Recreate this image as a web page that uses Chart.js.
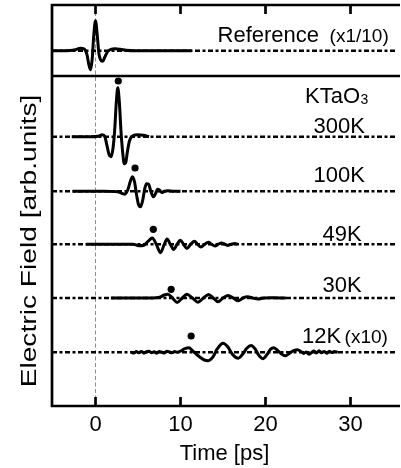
<!DOCTYPE html>
<html><head><meta charset="utf-8">
<script src="https://cdn.jsdelivr.net/npm/chart.js@4/dist/chart.umd.min.js"></script>
<style>html,body{margin:0;padding:0;background:#fff}</style>
</head><body>
<canvas id="c" width="401" height="468"></canvas>
<script>
// ---------- data ----------
const xTicks = [0, 10, 20, 30];
const seriesNames = ['Reference', '300K', '100K', '49K', '30K', '12K'];
// trace baselines (arb. units on the stacked offset axis)
const baselines = [35.52, 26.93, 21.47, 16.18, 10.8, 5.38];
const dividerValue = 33.0;

const tRef = [-5.12,-4,-3,-2.4,-1.8,-1.35,-1.0,-0.8,-0.6,-0.4,-0.2,0,0.2,0.4,0.6,0.85,1.1,1.4,1.8,2.3,2.9,3.6,4.5,6,8,11.3];
const vRef = [0,0,0.03,0.1,0.25,0.2,-0.4,-1.3,-1.9,-0.9,1.6,3.0,1.6,-0.3,-0.9,-1.05,-0.6,-0.1,0.15,0.2,0.15,0.05,0,0,0,0];

const t300 = [-2.8,-1.5,-0.5,0.3,0.8,1.1,1.35,1.6,1.83,2.05,2.25,2.45,2.62,2.8,3.0,3.2,3.38,3.55,3.75,4.0,4.4,5.0,5.6,6.3];
const v300 = [0,0,0,0.05,0.2,0.0,-0.9,-1.8,-2.0,-1.2,0.6,3.5,4.9,3.5,0.5,-1.6,-2.7,-2.6,-1.5,-0.4,0.1,0.2,0.15,0];

const t100 = [-2.7,-1,1,2.6,3.1,3.45,3.8,4.1,4.35,4.6,4.8,5.05,5.3,5.55,5.8,6.0,6.25,6.5,6.8,7.05,7.3,7.55,7.8,8.1,8.5,9.2,10.0];
const v100 = [0,0,0,-0.05,-0.2,-0.3,0.15,1.0,1.45,0.9,-0.2,-1.3,-1.55,-0.9,0.3,0.75,0.7,0.0,-0.55,-0.25,0.2,0.1,-0.12,0.0,0.06,0,0];

const t49 = [-1.1,2,4.4,5.1,5.7,6.2,6.67,7.15,7.65,8.05,8.42,8.8,9.2,9.6,9.97,10.35,10.75,11.2,11.64,12.0,12.4,12.85,13.27,13.65,14.05,14.45,14.82,15.2,15.6,16.0,16.4,16.7];
const v49 = [0,0,0,-0.15,-0.1,0.3,0.62,0.0,-0.85,-0.1,0.52,0.0,-0.52,0.0,0.4,0.0,-0.42,0.0,0.3,0.0,-0.27,0.0,0.2,0.0,-0.18,0.0,0.13,0.0,-0.12,0.0,0.08,0];

const t30 = [1.8,5,6.5,7.1,7.65,8.1,8.5,9.05,9.6,10.2,10.75,11.4,12.05,12.7,13.3,13.85,14.4,15.0,15.6,16.2,16.8,17.35,17.9,18.5,19.1,19.8,20.8,22.4];
const v30 = [0,0,0,0.03,0.12,0.3,0.38,0.0,-0.45,0.0,0.38,0.0,-0.42,0.0,0.35,0.0,-0.38,0.0,0.25,0.0,-0.28,0.0,0.12,0.0,-0.1,0.0,0.03,0];

const t12 = [4.2,4.5,4.8,5.1,5.4,5.7,6.0,6.3,6.6,6.9,7.2,7.5,7.8,8.1,8.4,8.7,9.0,9.3,9.6,
  10.0,10.5,11.0,11.4,11.8,12.3,12.8,13.27,13.8,14.3,15.0,15.6,16.1,16.8,17.4,17.8,18.3,18.8,19.2,19.67,20.2,20.6,21.0,21.5,22.0,22.4,22.9,23.3,23.75,
  24.2,24.5,24.8,25.1,25.4,25.7,26.0,26.3,26.6,26.9,27.2,27.5,27.8,28.1,28.5];
const v12 = [0.0,-0.08,0.06,-0.05,0.08,-0.1,0.05,0.1,-0.06,0.04,-0.1,0.08,0.0,-0.07,0.1,0.02,-0.05,0.06,0.0,
  0.1,0.35,0.45,0.15,-0.15,-0.5,-0.78,-0.85,-0.5,0.3,0.9,0.5,-0.2,-0.6,-0.1,0.4,0.67,0.3,-0.3,-0.65,-0.2,0.3,0.45,0.1,-0.25,-0.35,-0.05,0.15,0.25,
  0.05,-0.12,0.02,-0.2,-0.05,0.12,-0.08,0.15,-0.05,0.08,-0.1,0.1,-0.04,0.06,0.0];

// peak markers (time, value)
const markT = [2.68, 4.65, 6.8, 8.9, 11.25];
const markV = [32.5, 23.8, 17.67, 11.67, 7.0];

// texts
const annTexts = ['Reference', '(x1/10)', 'KTaO', '300K', '100K', '49K', '30K', '12K', '(x10)'];
const yTitle = 'Electric Field [arb.units]';
const xTitle = 'Time [ps]';

// ---------- styles / layout ----------
const FONT = "'Liberation Sans', Arial, Helvetica, sans-serif";
const xMin = -5.12, xMax = 35.47, yMin = 0, yMax = 40.1;
// annotation anchors: [x(ps), y(value), align, size]
const annPos = [
  [26.3, 36.43, 'right', 22],
  [34.5, 36.43, 'right', 19],
  [24.65, 30.27, 'left', 22],
  [28.66, 27.27, 'center', 22],
  [28.66, 22.43, 'center', 22],
  [29.0, 16.55, 'center', 22],
  [29.0, 11.43, 'center', 22],
  [24.3, 6.35, 'left', 22],
  [34.4, 6.35, 'right', 19]
];
// y-title: center value on the y scale, x offset in px from canvas left, stretch
const yTitleCenter = 16.5;

const traces = [[tRef, vRef], [t300, v300], [t100, v100], [t49, v49], [t30, v30], [t12, v12]];

const datasets = [];
traces.forEach(([t, v], i) => {
  datasets.push({
    label: seriesNames[i],
    data: t.map((tt, k) => ({x: tt, y: baselines[i] + v[k]})),
    borderColor: '#000', borderWidth: 3, pointRadius: 0,
    cubicInterpolationMode: 'monotone', fill: false
  });
});
datasets.push({
  label: 'peaks',
  data: markT.map((t, k) => ({x: t, y: markV[k]})),
  showLine: false, pointRadius: 3.6, pointBackgroundColor: '#000', pointBorderWidth: 0
});
baselines.forEach((b, i) => {
  datasets.push({
    label: 'base ' + seriesNames[i],
    data: [{x: xMin, y: b}, {x: xMax, y: b}],
    borderColor: '#000', borderWidth: 2.6, pointRadius: 0,
    borderDash: [5, 2.5, 3, 2.5]
  });
});
datasets.push({
  label: 'zero',
  data: [{x: 0, y: yMin}, {x: 0, y: yMax}],
  borderColor: '#8c8c8c', borderWidth: 1, pointRadius: 0, borderDash: [4, 2.5]
});

const framePlugin = {
  id: 'frame',
  afterDatasetsDraw(chart) {
    const {ctx, chartArea: a, scales: {x, y}} = chart;
    ctx.save();
    ctx.strokeStyle = '#000';
    ctx.lineWidth = 2.7;
    ctx.lineCap = 'butt';
    ctx.beginPath();
    ctx.moveTo(a.right + 3, a.top); ctx.lineTo(a.left, a.top);
    ctx.lineTo(a.left, a.bottom); ctx.lineTo(a.right + 3, a.bottom);
    const yd = y.getPixelForValue(dividerValue);
    ctx.moveTo(a.left, yd); ctx.lineTo(a.right + 3, yd);
    ctx.stroke();
    ctx.beginPath();
    xTicks.forEach(v => {
      const px = x.getPixelForValue(v);
      ctx.moveTo(px, a.bottom); ctx.lineTo(px, a.bottom - 9);
      ctx.moveTo(px, a.top); ctx.lineTo(px, a.top + 9);
    });
    ctx.stroke();
    ctx.fillStyle = '#000';
    ctx.textBaseline = 'alphabetic';
    annTexts.forEach((txt, i) => {
      const [tx, ty, al, sz] = annPos[i];
      ctx.font = sz + 'px ' + FONT;
      ctx.textAlign = al;
      const px = x.getPixelForValue(tx), py = y.getPixelForValue(ty);
      ctx.fillText(txt, px, py);
      if (txt === 'KTaO') {
        const w = ctx.measureText(txt).width;
        ctx.font = '14px ' + FONT;
        ctx.textAlign = 'left';
        ctx.fillText('3', px + w + 0.5, py + 1);
      }
    });
    // y-axis title (stretched along its length like the reference)
    ctx.save();
    ctx.translate(30, y.getPixelForValue(yTitleCenter));
    ctx.rotate(-Math.PI / 2);
    ctx.scale(1.28, 1);
    ctx.font = '22px ' + FONT;
    ctx.textAlign = 'center';
    ctx.textBaseline = 'middle';
    ctx.fillText(yTitle, 0, 0);
    ctx.restore();
    ctx.restore();
  }
};

new Chart(document.getElementById('c'), {
  type: 'line',
  data: {datasets},
  options: {
    responsive: false, animation: false, devicePixelRatio: 1,
    layout: {padding: {top: 5, right: 0, left: 0, bottom: 0}},
    plugins: {legend: {display: false}, tooltip: {enabled: false}},
    scales: {
      x: {
        type: 'linear', min: xMin, max: xMax, position: 'bottom',
        grid: {display: false, drawTicks: false}, border: {display: false},
        afterBuildTicks: s => { s.ticks = xTicks.map(v => ({value: v})); },
        ticks: {color: '#000', font: {family: FONT, size: 22}, padding: 6, maxRotation: 0, autoSkip: false},
        title: {display: true, text: xTitle, color: '#000', font: {family: FONT, size: 22}, padding: {top: 1, bottom: 1}},
        afterFit: s => { s.height = 62; }
      },
      y: {
        type: 'linear', min: yMin, max: yMax,
        grid: {display: false, drawTicks: false}, border: {display: false},
        ticks: {display: false},
        title: {display: false},
        afterFit: s => { s.width = 52; }
      }
    }
  },
  plugins: [framePlugin]
});
</script>
</body></html>
